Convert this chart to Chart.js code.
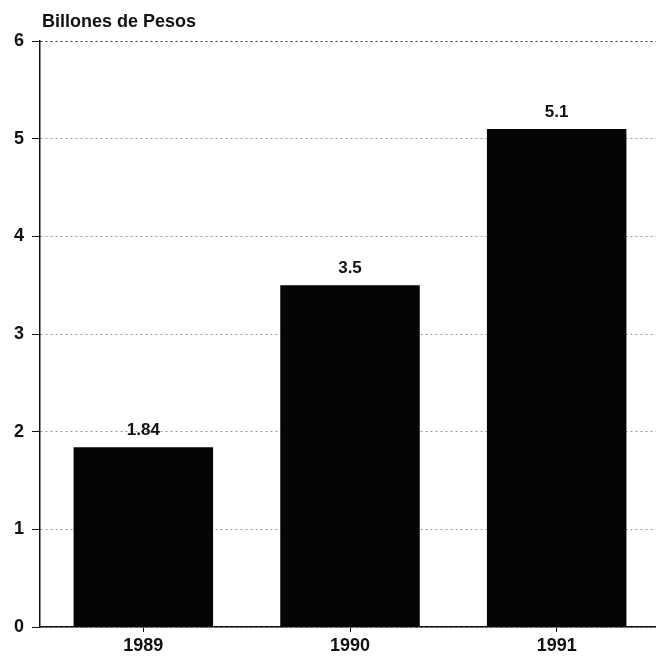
<!DOCTYPE html>
<html>
<head>
<meta charset="utf-8">
<script src="https://cdn.jsdelivr.net/npm/chart.js@4.4.0/dist/chart.umd.min.js"></script>
<style>
	html, body { margin: 0; padding: 0; background: #fff; overflow: hidden; }
	#wrap { width: 660px; height: 664px; }
</style>
</head>
<body>
<div id="wrap"><canvas id="chart"></canvas></div>
<script>
// 데이터
const years = ["1989", "1990", "1991"];
const values = [1.84, 3.5, 5.1];
const valueLabels = ["1.84", "3.5", "5.1"];
const yTicks = [0, 1, 2, 3, 4, 5, 6];
const unitLabel = "Billones de Pesos";

const FONT = "'Liberation Sans', Arial, sans-serif";

// 막대 위 값 + 좌상단 단위 표시
const labelPlugin = {
	id: "labels",
	afterDatasetsDraw(chart) {
		const ctx = chart.ctx;
		const meta = chart.getDatasetMeta(0);
		ctx.save();
		ctx.fillStyle = "#111";
		ctx.font = "bold 17px " + FONT;
		ctx.textAlign = "center";
		ctx.textBaseline = "alphabetic";
		meta.data.forEach((bar, i) => {
			ctx.fillText(valueLabels[i], bar.x, bar.y - 12);
		});
		ctx.textAlign = "left";
		ctx.font = "bold 18px " + FONT;
		ctx.fillText(unitLabel, chart.chartArea.left + 2, 27);
		ctx.restore();
	},
};

new Chart(document.getElementById("chart"), {
	type: "bar",
	data: {
		labels: years,
		datasets: [
			{
				data: values,
				backgroundColor: "#050505",
				borderWidth: 0,
				barPercentage: 0.675,
				categoryPercentage: 1,
			},
		],
	},
	options: {
		responsive: true,
		maintainAspectRatio: false,
		animation: false,
		layout: { padding: { top: 41, right: 0, left: 0, bottom: 0 } },
		plugins: {
			legend: { display: false },
			tooltip: { enabled: false },
		},
		scales: {
			x: {
				afterFit: (s) => { s.height = 37; },
				grid: {
					offset: false,
					drawOnChartArea: false,
					drawTicks: true,
					tickLength: 5,
					tickColor: "#111",
				},
				border: { display: true, color: "#111", width: 1.5 },
				ticks: {
					color: "#111",
					padding: 3,
					font: { family: FONT, size: 18, weight: "bold" },
				},
			},
			y: {
				min: 0,
				max: 6,
				afterFit: (s) => { s.width = 40; },
				afterBuildTicks: (s) => { s.ticks = yTicks.map((v) => ({ value: v })); },
				grid: {
					color: (c) => (c.tick && c.tick.value === 6 ? "#333" : "#999"),
					lineWidth: 1,
					tickLength: 8,
					tickColor: "#111",
				},
				border: { display: true, color: "#111", width: 1.5, dash: [2, 3] },
				ticks: {
					color: "#111",
					padding: 8,
					font: { family: FONT, size: 18, weight: "bold" },
				},
			},
		},
	},
	plugins: [labelPlugin],
});
</script>
</body>
</html>
